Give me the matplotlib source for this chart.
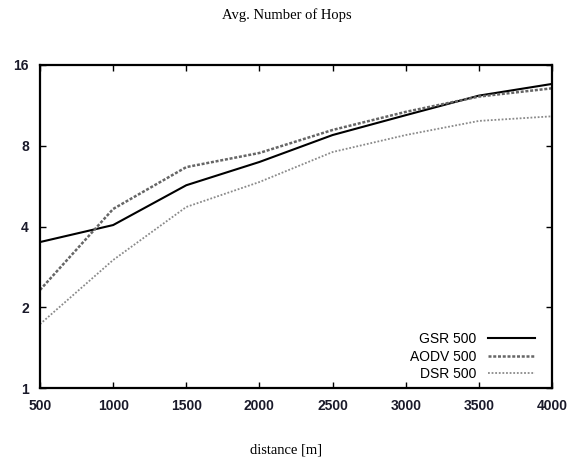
import matplotlib
matplotlib.use("Agg")
import matplotlib.pyplot as plt
from matplotlib.ticker import FixedLocator, FixedFormatter, NullLocator

distance = [500, 1000, 1500, 2000, 2500, 3000, 3500, 4000]
gsr = [3.5, 4.05, 5.7, 6.96, 8.77, 10.4, 12.3, 13.6]
aodv = [2.32, 4.65, 6.66, 7.52, 9.16, 10.7, 12.2, 13.1]
dsr = [1.73, 3.0, 4.73, 5.86, 7.58, 8.77, 9.9, 10.3]
yticks = [1, 2, 4, 8, 16]
ytick_labels = ["1", "2", "4", "8", "16"]
xticks = [500, 1000, 1500, 2000, 2500, 3000, 3500, 4000]

fig = plt.figure(figsize=(5.73, 4.74), dpi=100)
ax = fig.add_axes([40/573, 1-388/474, (552-40)/573, (388-65)/474])

ax.plot(distance, gsr, color="black", lw=1.5, label="GSR 500")
ax.plot(distance, aodv, color="#666666", lw=1.8, linestyle=(0, (1.2, 0.7)), label="AODV 500")
ax.plot(distance, dsr, color="#8a8a8a", lw=1.3, linestyle=(0, (1, 1)), label="DSR 500")

ax.set_yscale("log", base=2)
ax.set_xlim(500, 4000)
ax.set_ylim(1, 16)
ax.yaxis.set_major_locator(FixedLocator(yticks))
ax.yaxis.set_major_formatter(FixedFormatter(ytick_labels))
ax.yaxis.set_minor_locator(NullLocator())
ax.set_xticks(xticks)
ax.set_xticklabels([str(x) for x in xticks])

for s in ax.spines.values():
    s.set_linewidth(1.6)
ax.tick_params(direction="in", top=True, right=True, length=4, width=1,
               labelsize=10)
ax.tick_params(axis="x", pad=8)
ax.tick_params(axis="y", pad=8)
for lab in ax.get_xticklabels() + ax.get_yticklabels():
    lab.set_fontfamily("Liberation Sans")
    lab.set_fontweight("bold")
    lab.set_color("#1a1a2a")

leg = ax.legend(loc="lower right", markerfirst=False, frameon=False,
                prop={"family": "Liberation Sans", "size": 10},
                handlelength=3.4, labelspacing=0.25, borderaxespad=0.3,
                borderpad=0.2, handletextpad=0.8)
leg.set_bbox_to_anchor((1 - 10/512, 0.0), transform=ax.transAxes)

fig.text(0.5, 1-15/474, "Avg. Number of Hops", ha="center", va="center",
         family="Liberation Serif", fontsize=10.5)
fig.text(0.5, 1-450/474, "distance [m]", ha="center", va="center",
         family="Liberation Serif", fontsize=10.5)

fig.savefig("out.png", dpi=100)
